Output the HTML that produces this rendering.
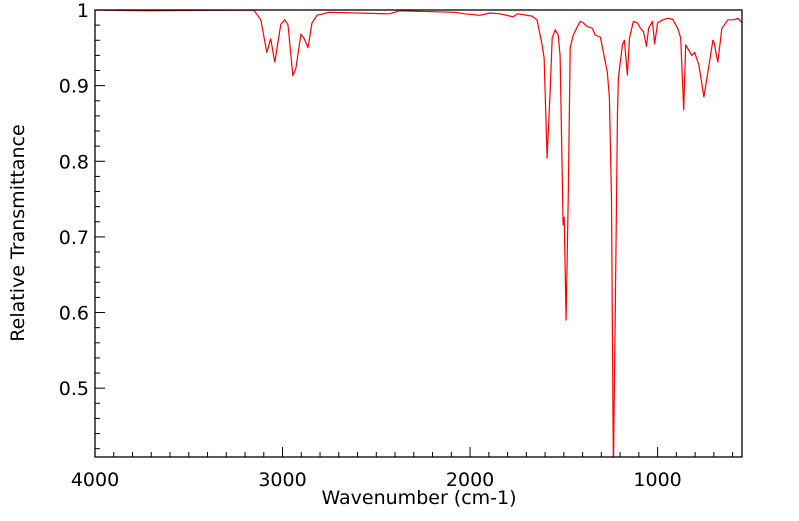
<!DOCTYPE html>
<html><head><meta charset="utf-8"><style>
html,body{margin:0;padding:0;background:#fff;}
svg text{font-family:"DejaVu Sans","Liberation Sans",sans-serif;fill:#000;}
</style></head><body>
<svg id="chart" width="799" height="516" xmlns="http://www.w3.org/2000/svg">
<defs><clipPath id="clip"><rect x="95" y="10" width="647" height="447"/></clipPath></defs>
<g id="ticks"></g>
<path id="line" fill="none" stroke="#ff0000" stroke-width="1.2" stroke-linejoin="round" clip-path="url(#clip)"/>
<rect x="95" y="10" width="647" height="447" fill="none" stroke="#000" stroke-width="1.3"/>
<text x="419" y="504" font-size="19" text-anchor="middle">Wavenumber (cm-1)</text>
<text transform="translate(24,233) rotate(-90)" font-size="19" text-anchor="middle">Relative Transmittance</text>
</svg>
<script>
const wavenumbers=[4000,3716,3154,3116,3084,3063,3041,3009,2988,2971,2945,2929,2902,2886,2864,2843,2816,2752,2430,2377,2082,2029,1948,1895,1841,1771,1745,1670,1643,1616,1605,1589,1573,1562,1546,1530,1520,1504,1498,1488,1477,1466,1450,1413,1396,1375,1348,1332,1305,1268,1257,1246,1236,1225,1214,1209,1188,1177,1161,1150,1129,1107,1091,1075,1059,1048,1027,1016,1000,973,946,920,893,877,861,850,834,818,802,780,753,732,705,700,679,657,625,593,571,550];
const transmittance=[1.0,0.999,1.0,0.987,0.944,0.962,0.931,0.981,0.987,0.980,0.913,0.923,0.968,0.963,0.950,0.983,0.993,0.997,0.995,0.999,0.997,0.995,0.993,0.996,0.995,0.991,0.995,0.992,0.987,0.954,0.937,0.804,0.894,0.963,0.974,0.967,0.940,0.716,0.726,0.590,0.749,0.950,0.967,0.985,0.983,0.978,0.976,0.967,0.964,0.918,0.884,0.749,0.39,0.616,0.865,0.910,0.954,0.960,0.914,0.963,0.985,0.983,0.976,0.971,0.952,0.976,0.985,0.955,0.983,0.987,0.989,0.988,0.976,0.963,0.868,0.954,0.947,0.940,0.944,0.927,0.885,0.918,0.960,0.958,0.931,0.976,0.987,0.987,0.989,0.983];
const xTickLabels=[4000,3000,2000,1000];
const yTickLabels=[0.5,0.6,0.7,0.8,0.9,1];
const X0=95,X1=742,Y0=457,Y1=10,XMIN=4000,XMAX=550,YMIN=0.409,YMAX=1.0;
function xs(v){return X0+(XMIN-v)/(XMIN-XMAX)*(X1-X0);}
function ys(v){return Y0-(v-YMIN)/(YMAX-YMIN)*(Y0-Y1);}
const NS="http://www.w3.org/2000/svg";
let d="";
wavenumbers.forEach((w,i)=>{d+=(i?"L":"M")+xs(w).toFixed(1)+","+ys(transmittance[i]).toFixed(1);});
document.getElementById("line").setAttribute("d",d);
const g=document.getElementById("ticks");
function ln(x1,y1,x2,y2){const l=document.createElementNS(NS,"line");
l.setAttribute("x1",x1);l.setAttribute("y1",y1);l.setAttribute("x2",x2);l.setAttribute("y2",y2);
l.setAttribute("stroke","#000");l.setAttribute("stroke-width","1");


g.appendChild(l);}
for(let w=4000;w>=600;w-=100){const x=xs(w);ln(x,Y0,x,Y0-(w%1000===0?10:5));}
for(let k=0;k<=30;k++){const v=0.42+k*0.02;if(v>YMAX+1e-9)break;const y=ys(v);const major=Math.abs(v*10-Math.round(v*10))<1e-6;ln(X0,y,X0+(major?10:5),y);}
xTickLabels.forEach(v=>{const t=document.createElementNS(NS,"text");t.setAttribute("x",xs(v));t.setAttribute("y",Y0+29);t.setAttribute("font-size","19");t.setAttribute("text-anchor","middle");t.textContent=v;


g.appendChild(t);});
yTickLabels.forEach(v=>{const t=document.createElementNS(NS,"text");t.setAttribute("x",X0-6);t.setAttribute("y",ys(v)+7);t.setAttribute("font-size","19");t.setAttribute("text-anchor","end");t.textContent=v;


g.appendChild(t);});
</script>
</body></html>
